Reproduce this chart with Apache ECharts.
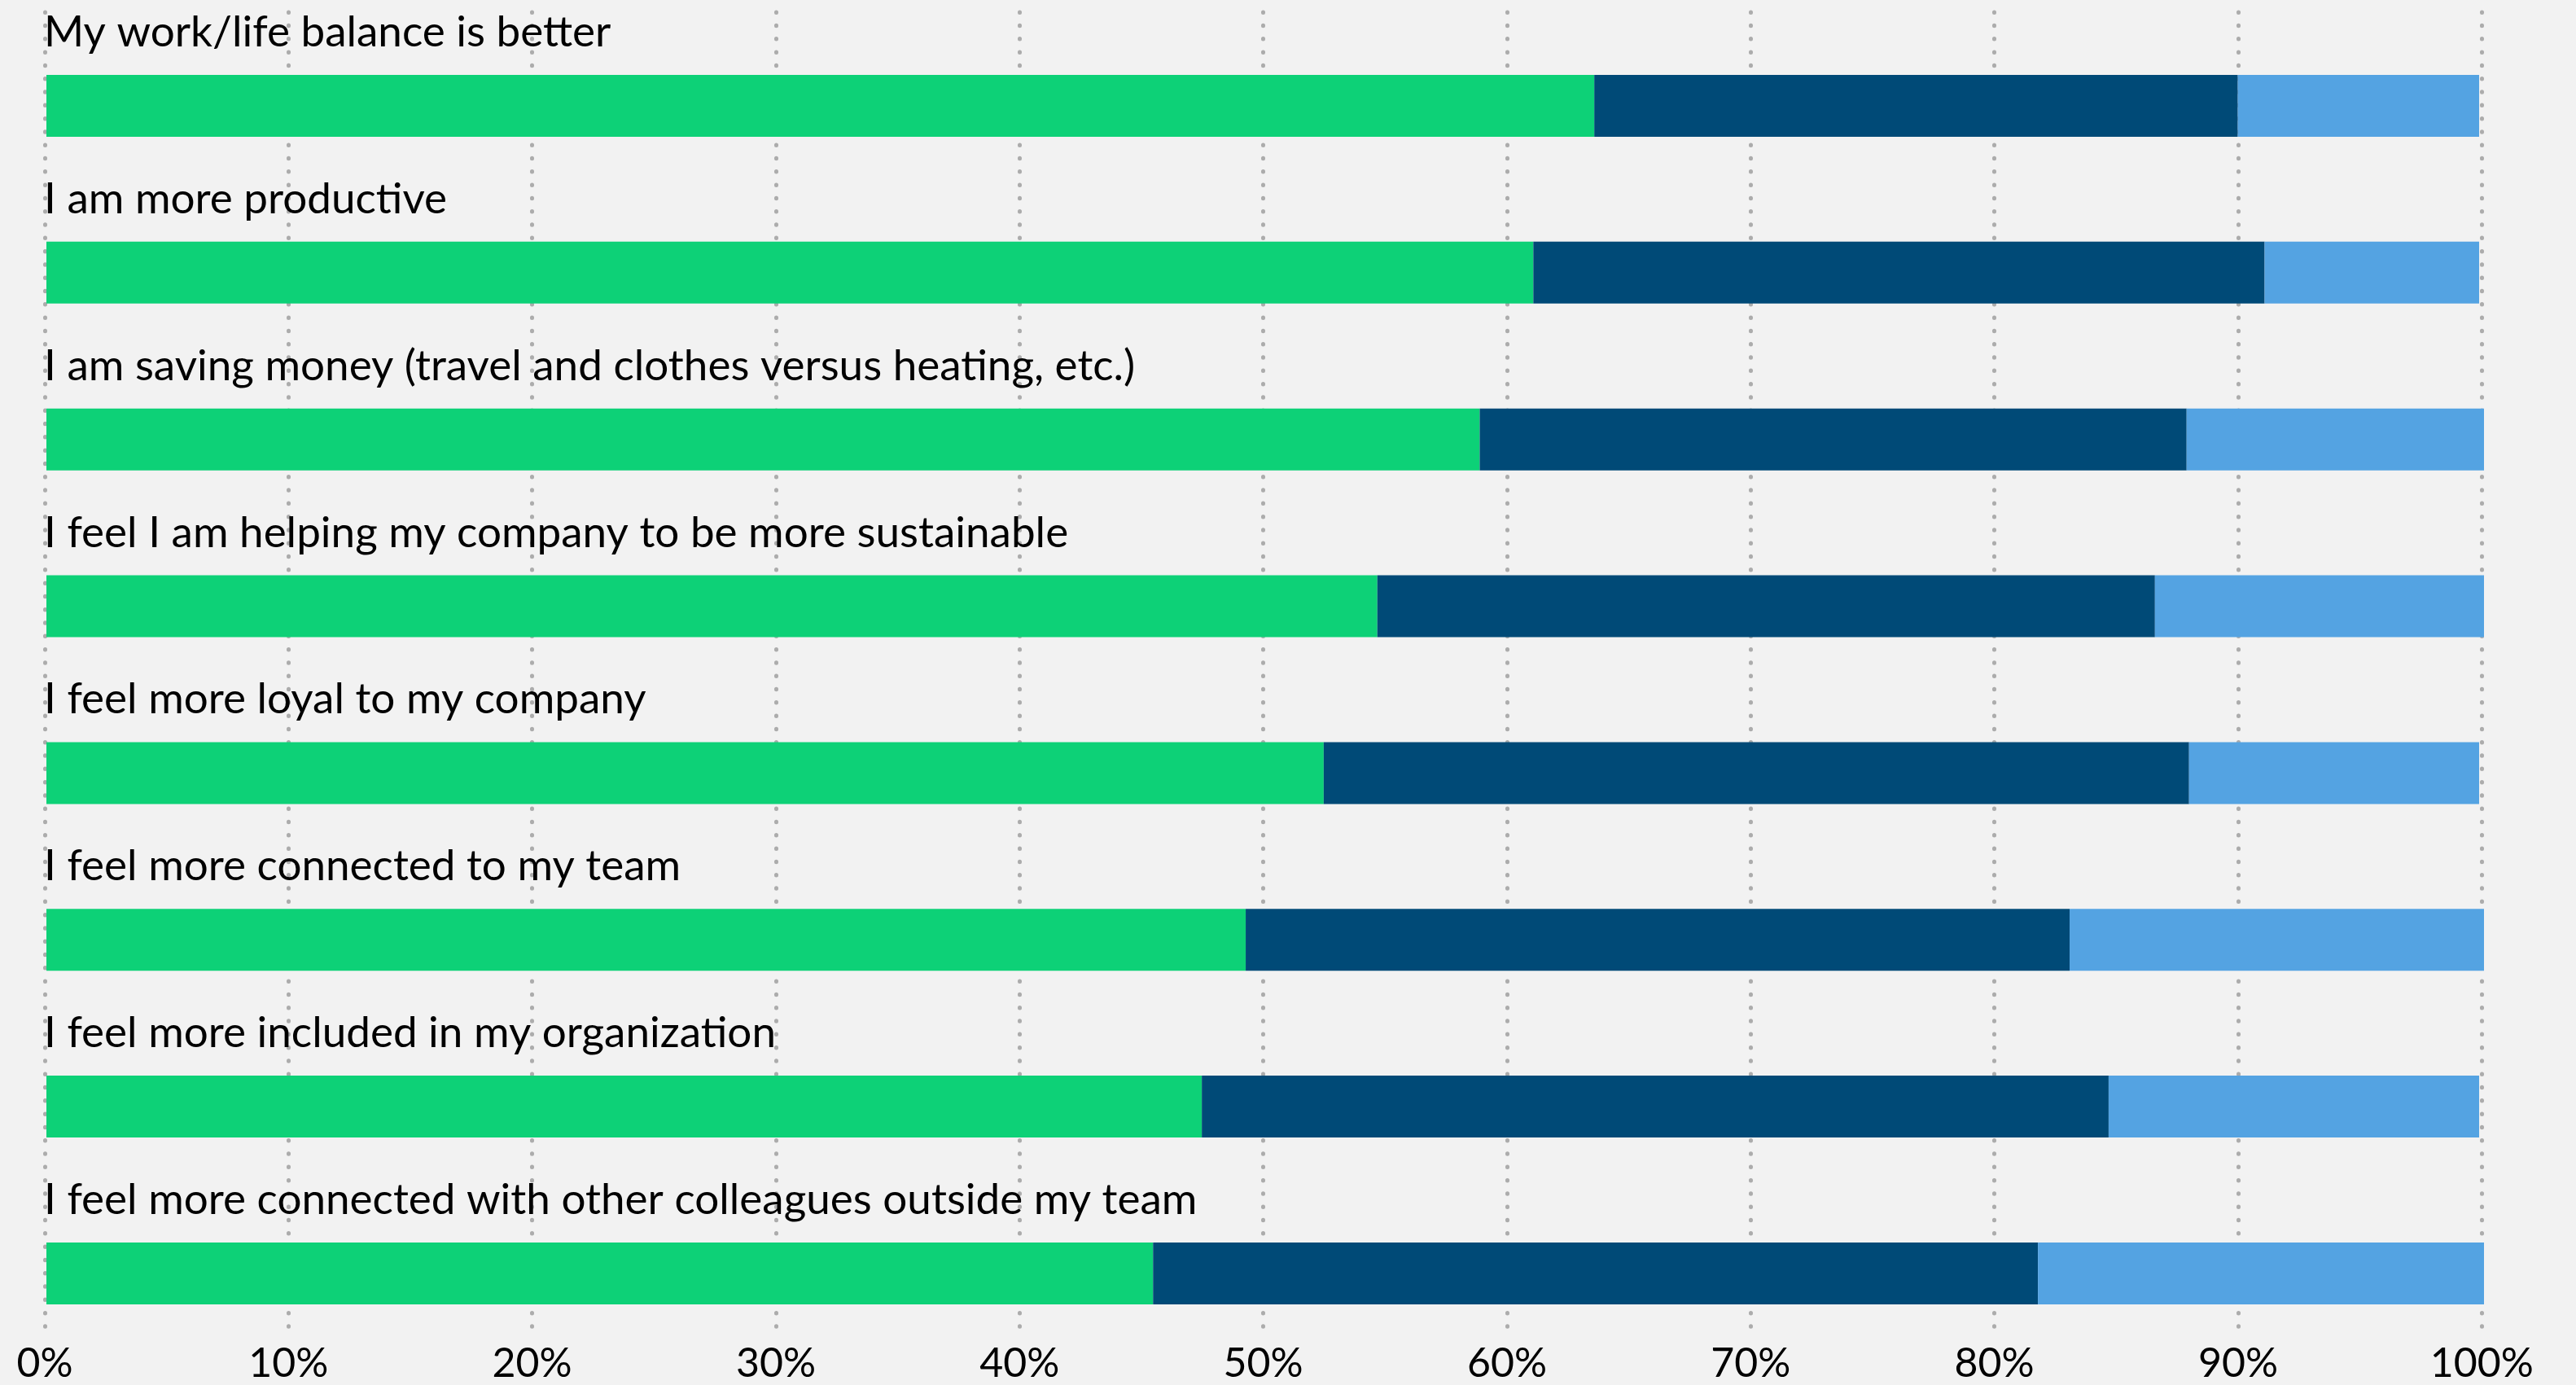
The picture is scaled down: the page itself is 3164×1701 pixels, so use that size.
<!DOCTYPE html>
<html>
<head>
<meta charset="utf-8">
<script src="https://cdn.jsdelivr.net/npm/echarts@6/dist/echarts.min.js"></script>
<style>
html,body{margin:0;padding:0;background:#f2f2f2;}
#chart{width:3164px;height:1701px;}
</style>
</head>
<body>
<div id="chart"></div>
<script>
const categories = [
  "My work/life balance is better",
  "I am more productive",
  "I am saving money (travel and clothes versus heating, etc.)",
  "I feel I am helping my company to be more sustainable",
  "I feel more loyal to my company",
  "I feel more connected to my team",
  "I feel more included in my organization",
  "I feel more connected with other colleagues outside my team"
];
const seriesA = [63.5, 61.0, 58.8, 54.6, 52.4, 49.2, 47.4, 45.4];
const seriesB = [26.4, 30.0, 29.0, 31.9, 35.5, 33.8, 37.2, 36.3];
const seriesC = [9.9, 8.8, 12.2, 13.5, 11.9, 17.0, 15.2, 18.3];
const tickValues = [0, 10, 20, 30, 40, 50, 60, 70, 80, 90, 100];

const colors = ['#0dd177', '#004a77', '#54a3e2'];
const FONT = 'Lato';

const chart = echarts.init(document.getElementById('chart'), null, {renderer: 'canvas'});
const makeBar = (name, data, color) => ({
  name: name,
  type: 'bar',
  stack: 'total',
  xAxisIndex: 0,
  yAxisIndex: 0,
  barWidth: 76,
  data: data,
  itemStyle: {color: color},
  emphasis: {disabled: true},
  z: 3
});

chart.setOption({
  backgroundColor: '#f2f2f2',
  animation: false,
  grid: [
    {left: 57, right: 113, top: 27.5, bottom: 34.6, containLabel: false},
    {left: 55, right: 115.7, top: 15, bottom: 61, containLabel: false}
  ],
  xAxis: [
    {
      gridIndex: 0, type: 'value', min: 0, max: 100, interval: 10,
      axisLine: {show: false}, axisTick: {show: false}, axisLabel: {show: false},
      splitLine: {show: false}
    },
    {
      gridIndex: 1, type: 'value', min: tickValues[0], max: tickValues[tickValues.length - 1], interval: 10,
      position: 'bottom',
      axisLine: {show: false}, axisTick: {show: false},
      axisLabel: {
        show: true, formatter: '{value}%', color: '#000', fontFamily: FONT,
        fontSize: 50, margin: 10
      },
      splitLine: {
        show: true,
        lineStyle: {color: '#acacac', width: 5, type: [0.5, 15.8], cap: 'round'}
      }
    }
  ],
  yAxis: [
    {
      gridIndex: 0, type: 'category', data: categories, inverse: true,
      axisLine: {show: false}, axisTick: {show: false}, splitLine: {show: false},
      axisLabel: {
        inside: true, margin: -3, align: 'left', verticalAlign: 'middle',
        formatter: function (v) { return '{a|' + v + '}\n{b| }'; },
        rich: {
          a: {color: '#000', fontFamily: FONT, fontSize: 53, lineHeight: 60},
          b: {fontSize: 10, lineHeight: 180}
        }
      },
      z: 5
    },
    {
      gridIndex: 1, type: 'value', min: 0, max: 1, show: false
    }
  ],
  series: [
    makeBar('Agree', seriesA, colors[0]),
    makeBar('Neutral', seriesB, colors[1]),
    makeBar('Disagree', seriesC, colors[2])
  ]
});
</script>
</body>
</html>
